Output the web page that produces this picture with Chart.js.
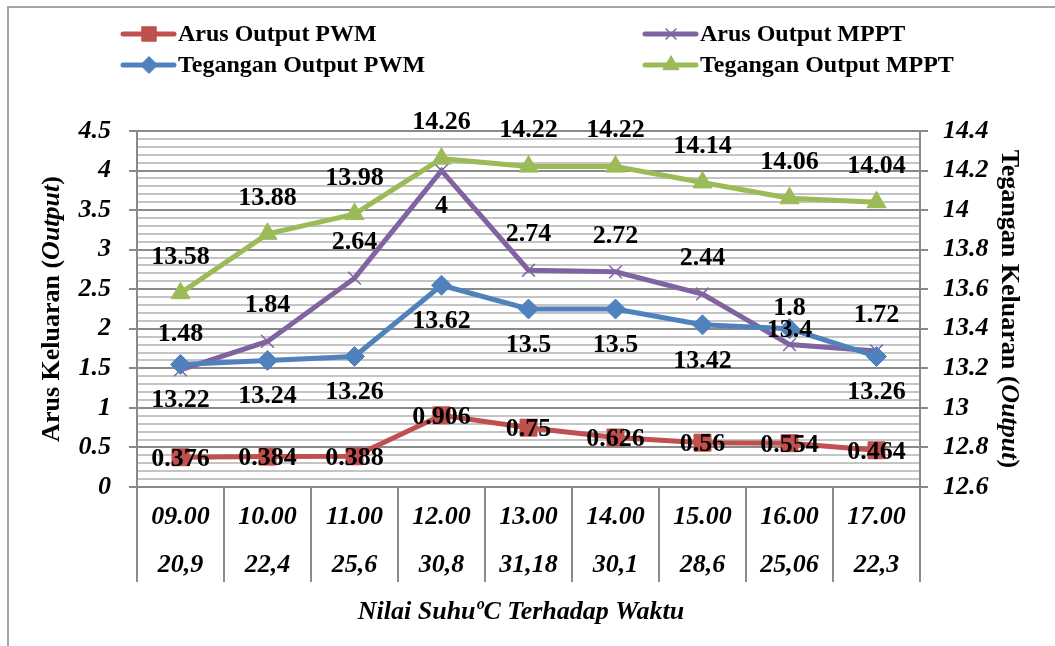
<!DOCTYPE html>
<html><head><meta charset="utf-8">
<script src="https://cdn.jsdelivr.net/npm/chart.js@4.4.1/dist/chart.umd.min.js"></script>
<style>
html,body{margin:0;padding:0;background:#fff;}
#wrap{position:relative;width:1055px;height:646px;overflow:hidden;background:#fff;}
#frame{position:absolute;left:7px;top:6px;width:1100px;height:700px;border-left:2px solid #a6a6a6;border-top:2px solid #a6a6a6;}
canvas{position:absolute;left:0;top:0;}
</style></head><body>
<div id="wrap"><div id="frame"></div><canvas id="c" width="1055" height="646"></canvas></div>
<script>
// ---- data ----
const timeLabels = ['09.00','10.00','11.00','12.00','13.00','14.00','15.00','16.00','17.00'];
const tempLabels = ['20,9','22,4','25,6','30,8','31,18','30,1','28,6','25,06','22,3'];
const arusPWM = [0.376, 0.384, 0.388, 0.906, 0.75, 0.626, 0.56, 0.554, 0.464];
const arusMPPT = [1.48, 1.84, 2.64, 4, 2.74, 2.72, 2.44, 1.8, 1.72];
const teganganPWM = [13.22, 13.24, 13.26, 13.62, 13.5, 13.5, 13.42, 13.4, 13.26];
const teganganMPPT = [13.58, 13.88, 13.98, 14.26, 14.22, 14.22, 14.14, 14.06, 14.04];
const leftAxis = {min: 0, max: 4.5, step: 0.5, minorStep: 0.1};
const rightAxis = {min: 12.6, max: 14.4, step: 0.2};

// label placement per series (style only)
const placeArusPWM = ['c','c','c','c','c','c','c','c','c'];
const placeArusMPPT = ['a','a','a','b','a','a','a','a','a'];
const placeTegPWM = ['b','b','b','b','b','b','b','c','b'];
const placeTegMPPT = ['a','a','a','a','a','a','a','a','a'];

const FAM = "'Liberation Serif','Times New Roman',serif";
const GRID = '#8a8a8a';

const labelsPlugin = {
  id: 'valueLabels',
  afterDatasetsDraw(chart) {
    const ctx = chart.ctx;
    ctx.save();
    ctx.font = 'bold 26px ' + FAM;
    ctx.fillStyle = '#000';
    ctx.textAlign = 'center';
    ctx.textBaseline = 'middle';
    chart.data.datasets.forEach((ds, i) => {
      const meta = chart.getDatasetMeta(i);
      meta.data.forEach((el, j) => {
        const p = ds.place[j];
        const dy = p === 'a' ? -36 : (p === 'b' ? 36 : 2);
        ctx.fillText(String(ds.data[j]), el.x, el.y + dy);
      });
    });
    ctx.restore();
  }
};

const legendPlugin = {
  id: 'customLegend',
  afterDraw(chart) {
    const ctx = chart.ctx;
    const pos = [[121, 34], [643, 34], [121, 65], [643, 65]];
    ctx.save();
    chart.data.datasets.forEach((ds, i) => {
      const [x, y] = pos[i];
      ctx.strokeStyle = ds.borderColor;
      ctx.lineWidth = 5;
      ctx.lineCap = 'round';
      ctx.beginPath(); ctx.moveTo(x + 2, y); ctx.lineTo(x + 53, y); ctx.stroke();
      ctx.fillStyle = ds.pointBackgroundColor;
      ctx.strokeStyle = ds.pointBorderColor;
      ctx.lineWidth = ds.pointBorderWidth;
      ctx.lineCap = 'butt';
      Chart.helpers.drawPoint(ctx, {pointStyle: ds.pointStyle, rotation: 0, radius: ds.pointRadius * 0.85, borderWidth: ds.pointBorderWidth}, x + 28, y);
      ctx.fillStyle = '#000';
      ctx.font = 'bold 24px ' + FAM;
      ctx.textAlign = 'left';
      ctx.textBaseline = 'middle';
      ctx.fillText(ds.label, x + 57, y + 1);
    });
    ctx.restore();
  }
};

function drawSegments(ctx, segs, cx, cy, rot) {
  ctx.save();
  ctx.translate(cx, cy);
  ctx.rotate(rot);
  ctx.textBaseline = 'middle';
  ctx.textAlign = 'left';
  let total = 0;
  segs.forEach(s => { ctx.font = s[1] + ' 26px ' + FAM; total += ctx.measureText(s[0]).width; });
  let x = -total / 2;
  ctx.fillStyle = '#000';
  segs.forEach(s => { ctx.font = s[1] + ' 26px ' + FAM; ctx.fillText(s[0], x, 0); x += ctx.measureText(s[0]).width; });
  ctx.restore();
}

const titlesPlugin = {
  id: 'axisTitles',
  afterDraw(chart) {
    const ctx = chart.ctx;
    drawSegments(ctx, [['Arus Keluaran (', 'bold'], ['Output', 'italic bold'], [')', 'bold']], 52, 309, -Math.PI / 2);
    drawSegments(ctx, [['Tegangan Keluaran (', 'bold'], ['Output', 'italic bold'], [')', 'bold']], 1009, 309, Math.PI / 2);
    drawSegments(ctx, [['Nilai Suhu\u00BAC Terhadap Waktu', 'italic bold']], 521, 612, 0);
  }
};

const tickFont = {family: FAM, size: 26, weight: 'bold', style: 'italic'};
const fmt = v => String(Math.round(v * 10) / 10);

new Chart(document.getElementById('c'), {
  type: 'line',
  data: {
    labels: timeLabels.map((t, i) => [t, tempLabels[i]]),
    datasets: [
      {label: 'Arus Output PWM', data: arusPWM, yAxisID: 'y', place: placeArusPWM,
       borderColor: '#C0504D', backgroundColor: '#C0504D', borderWidth: 5,
       pointStyle: 'rect', pointRadius: 12, pointBackgroundColor: '#C0504D', pointBorderColor: '#C0504D', pointBorderWidth: 1, order: 4},
      {label: 'Arus Output MPPT', data: arusMPPT, yAxisID: 'y', place: placeArusMPPT,
       borderColor: '#8064A2', backgroundColor: '#8064A2', borderWidth: 5,
       pointStyle: 'crossRot', pointRadius: 9, pointBackgroundColor: '#8064A2', pointBorderColor: '#8064A2', pointBorderWidth: 1.5, order: 3},
      {label: 'Tegangan Output PWM', data: teganganPWM, yAxisID: 'y2', place: placeTegPWM,
       borderColor: '#4F81BD', backgroundColor: '#4F81BD', borderWidth: 5,
       pointStyle: 'rectRot', pointRadius: 10, pointBackgroundColor: '#4F81BD', pointBorderColor: '#4F81BD', pointBorderWidth: 1, order: 2},
      {label: 'Tegangan Output MPPT', data: teganganMPPT, yAxisID: 'y2', place: placeTegMPPT,
       borderColor: '#9BBB59', backgroundColor: '#9BBB59', borderWidth: 5,
       pointStyle: 'triangle', pointRadius: 11, pointBackgroundColor: '#9BBB59', pointBorderColor: '#9BBB59', pointBorderWidth: 1, order: 1}
    ]
  },
  options: {
    responsive: false,
    animation: false,
    devicePixelRatio: 1,
    layout: {padding: {top: 131, left: 0, right: 0, bottom: 0}},
    plugins: {legend: {display: false}, tooltip: {enabled: false}},
    elements: {line: {tension: 0}},
    scales: {
      yMinor: {
        type: 'linear', position: 'left', min: leftAxis.min, max: leftAxis.max,
        afterFit: s => { s.width = 0; },
        ticks: {display: false, stepSize: leftAxis.minorStep},
        grid: {z: -2, drawTicks: false, tickLength: 0, lineWidth: 2,
               color: c => (c.index % 5 === 0) ? 'rgba(0,0,0,0)' : '#c4c4c4'},
        border: {display: false}
      },
      y: {
        type: 'linear', position: 'left', min: leftAxis.min, max: leftAxis.max,
        afterFit: s => { s.width = 137; },
        ticks: {stepSize: leftAxis.step, font: tickFont, color: '#000', padding: 18, callback: fmt},
        grid: {color: GRID, lineWidth: 2, tickLength: 8},
        border: {color: GRID, width: 2}
      },
      y2: {
        type: 'linear', position: 'right', min: rightAxis.min, max: rightAxis.max,
        afterFit: s => { s.width = 135; },
        ticks: {stepSize: rightAxis.step, font: tickFont, color: '#000', padding: 15, callback: fmt},
        grid: {drawOnChartArea: false, color: GRID, lineWidth: 2, tickLength: 8},
        border: {color: GRID, width: 2}
      },
      x: {
        type: 'category', offset: true,
        afterFit: s => { s.height = 159; },
        ticks: {font: Object.assign({}, tickFont, {lineHeight: 48.5 / 26}), color: '#000', padding: -89, autoSkip: false, maxRotation: 0},
        grid: {offset: true, drawOnChartArea: false, color: GRID, lineWidth: 2, tickLength: 95},
        border: {color: GRID, width: 2}
      }
    }
  },
  plugins: [labelsPlugin, legendPlugin, titlesPlugin]
});
</script>
</body></html>
